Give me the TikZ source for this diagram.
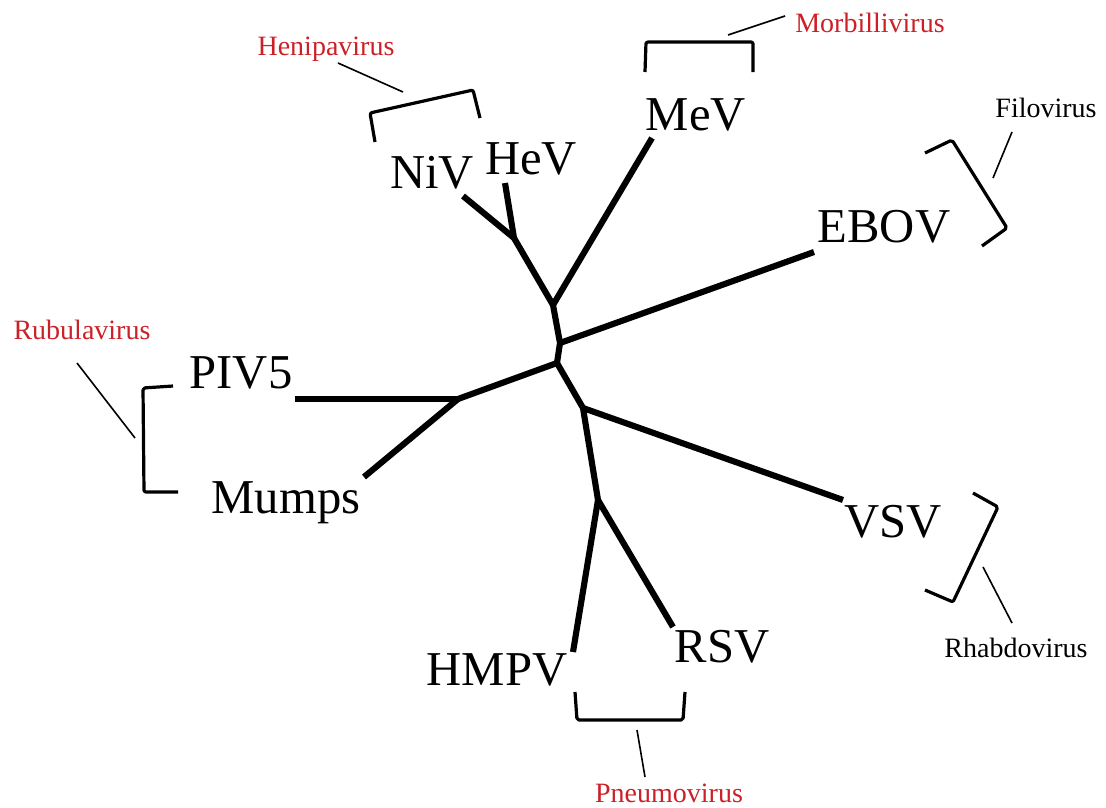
\documentclass[tikz,border=0pt]{standalone}
\usepackage{fontspec}
\setmainfont{Liberation Serif}
\definecolor{genred}{RGB}{204,32,40}
\begin{document}
\begin{tikzpicture}[x=0.75pt,y=-0.75pt,
  branch/.style={line width=4.6pt,line cap=butt,line join=round},
  bracketline/.style={line width=2.4pt,line join=round,rounded corners=1.5pt},
  pointer/.style={line width=1.2pt},
  virus/.style={font=\fontsize{36.5pt}{40pt}\selectfont,inner sep=0pt,anchor=base},
  genus/.style={font=\fontsize{21pt}{24pt}\selectfont,inner sep=0pt,anchor=base},
  redgenus/.style={genus,text=genred}]
\useasboundingbox (0,0) rectangle (1106,807);
% junctions
\coordinate (J1) at (514,238);
\coordinate (J2) at (553,305);
\coordinate (J3) at (560,343);
\coordinate (J4) at (557,363);
\coordinate (J5) at (458,399);
\coordinate (J6) at (583,408);
\coordinate (J7) at (598,500);
% leaf ends
\coordinate (eNiV) at (463,196);
\coordinate (eHeV) at (505,183);
\coordinate (eMeV) at (652,138);
\coordinate (eEBOV) at (814,252);
\coordinate (ePIV) at (295,399);
\coordinate (eMumps) at (364,477);
\coordinate (eVSV) at (843,500);
\coordinate (eHMPV) at (573,652);
\coordinate (eRSV) at (673,627);
% tree
\draw[branch] (eNiV) -- (J1);
\draw[branch] (eHeV) -- (J1);
\draw[branch] (J1) -- (J2) -- (J3) -- (J4) -- (J6) -- (J7);
\draw[branch] (J2) -- (eMeV);
\draw[branch] (J3) -- (eEBOV);
\draw[branch] (J4) -- (J5);
\draw[branch] (J5) -- (ePIV);
\draw[branch] (J5) -- (eMumps);
\draw[branch] (J6) -- (eVSV);
\draw[branch] (J7) -- (eHMPV);
\draw[branch] (J7) -- (eRSV);
% virus labels
\node[virus] (NiV) at (432,188) {NiV};
\node[virus] (HeV) at (531,174) {HeV};
\node[virus] (MeV) at (696,130) {MeV};
\node[virus] (EBOV) at (884,242) {EBOV};
\node[virus] (PIV5) at (241,388) {PIV5};
\node[virus] (Mumps) at (286,513) {Mumps};
\node[virus] (VSV) at (893,537) {VSV};
\node[virus] (HMPV) at (497,685) {HMPV};
\node[virus] (RSV) at (722,662) {RSV};
% genus labels
\node[redgenus] (Heni) at (326,55) {Henipavirus};
\node[redgenus] (Morb) at (870,32) {Morbillivirus};
\node[genus] (Filo) at (1046,117) {Filovirus};
\node[redgenus] (Rubu) at (82,339) {Rubulavirus};
\node[genus] (Rhab) at (1016,657) {Rhabdovirus};
\node[redgenus] (Pneu) at (669,802) {Pneumovirus};
% brackets
\draw[bracketline] (375,142) -- (370,113) -- (473,90) -- (480,118);
\draw[bracketline] (645,72) -- (646,42) -- (753,42) -- (753,72);
\draw[bracketline] (925,153) -- (952,140) -- (1007,228) -- (982,246);
\draw[bracketline] (173,386) -- (143,388) -- (144,492) -- (178,492);
\draw[bracketline] (973,493) -- (998,507) -- (953,602) -- (925,590);
\draw[bracketline] (575,692) -- (577,720) -- (683,720) -- (685,692);
% pointers
\coordinate (pHeni) at (403,92);
\coordinate (pMorb) at (728,35);
\coordinate (pFilo) at (993,178);
\coordinate (pRubu) at (135,438);
\coordinate (pRhab) at (983,567);
\coordinate (pPneu) at (637,730);
\draw[pointer] (338,63) -- (pHeni);
\draw[pointer] (785,16) -- (pMorb);
\draw[pointer] (1012,132) -- (pFilo);
\draw[pointer] (77,363) -- (pRubu);
\draw[pointer] (1012,623) -- (pRhab);
\draw[pointer] (645,777) -- (pPneu);
\end{tikzpicture}
\end{document}
